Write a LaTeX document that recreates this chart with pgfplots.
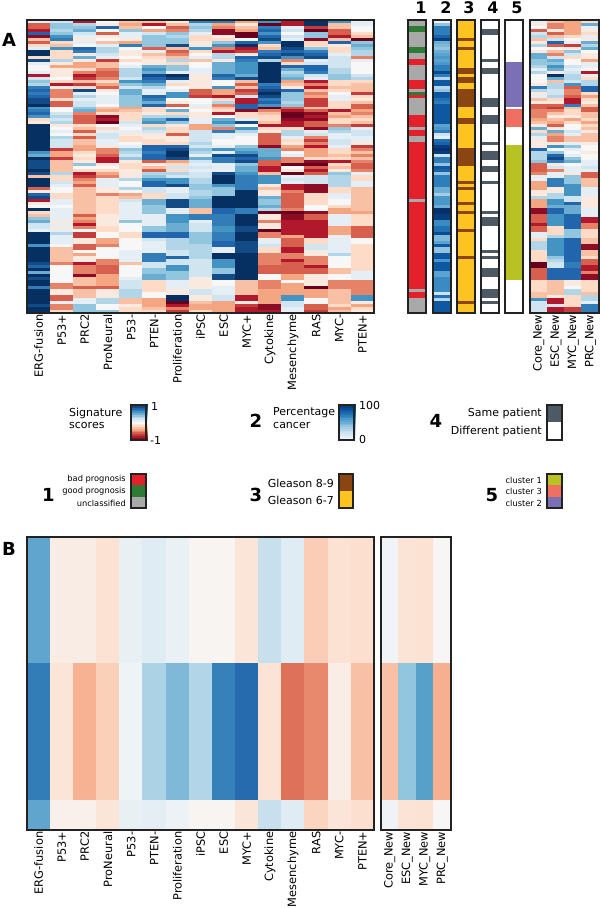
\documentclass[border=0pt]{standalone}
\usepackage{fontspec}
\setmainfont{DejaVu Sans}
\usepackage{pgfplots}
\usepackage{pgfplotstable}
\pgfplotsset{compat=1.18}

\definecolor{frame}{HTML}{222222}
\definecolor{tgray}{HTML}{A9A9A9}
\definecolor{tred}{HTML}{E4202A}
\definecolor{tgreen}{HTML}{2E7B36}
\definecolor{tyellow}{HTML}{FDC321}
\definecolor{tbrown}{HTML}{8B4513}
\definecolor{tslate}{HTML}{4D5A66}
\definecolor{tpurple}{HTML}{7B6FB5}
\definecolor{tsalmon}{HTML}{EF7060}
\definecolor{tolive}{HTML}{B8C224}

\pgfplotsset{
  colormap={rdbu}{rgb255=(103,0,31) rgb255=(178,24,43) rgb255=(214,96,77) rgb255=(244,165,130) rgb255=(253,219,199) rgb255=(247,247,247) rgb255=(209,229,240) rgb255=(146,197,222) rgb255=(67,147,195) rgb255=(33,102,172) rgb255=(5,48,97)},
  colormap={blues}{rgb255=(247,251,255) rgb255=(222,235,247) rgb255=(198,219,239) rgb255=(158,202,225) rgb255=(107,174,214) rgb255=(66,146,198) rgb255=(33,113,181) rgb255=(8,81,156) rgb255=(8,48,107)},
  colormap={prog}{color=(tgray) color=(tred) color=(tgreen)},
  colormap={gleason}{color=(tyellow) color=(tbrown)},
  colormap={patient}{color=(white) color=(tslate)},
  colormap={cluster}{color=(white) color=(tpurple) color=(tsalmon) color=(tolive)},
}

% cells of the heatmaps, slightly oversized so no seams show
\pgfdeclareplotmark{cellA}{\pgfpathrectangle{\pgfpoint{-11.8pt}{-1.7pt}}{\pgfpoint{23.6pt}{3.4pt}}\pgfusepathqfill}
\pgfdeclareplotmark{cellR}{\pgfpathrectangle{\pgfpoint{-8.9pt}{-1.7pt}}{\pgfpoint{17.8pt}{3.4pt}}\pgfusepathqfill}
\pgfdeclareplotmark{cellT}{\pgfpathrectangle{\pgfpoint{-10pt}{-1.7pt}}{\pgfpoint{20pt}{3.4pt}}\pgfusepathqfill}
\pgfdeclareplotmark{cellL}{\pgfpathrectangle{\pgfpoint{-9pt}{-1.1pt}}{\pgfpoint{18pt}{2.2pt}}\pgfusepathqfill}
\pgfdeclareplotmark{rowA}{\pgfpathrectangle{\pgfpoint{-11.8pt}{-64pt}}{\pgfpoint{23.6pt}{128pt}}\pgfusepathqfill}
\pgfdeclareplotmark{rowB}{\pgfpathrectangle{\pgfpoint{-11.8pt}{-68.5pt}}{\pgfpoint{23.6pt}{137pt}}\pgfusepathqfill}
\pgfdeclareplotmark{rowC}{\pgfpathrectangle{\pgfpoint{-11.8pt}{-15.5pt}}{\pgfpoint{23.6pt}{31pt}}\pgfusepathqfill}
\pgfdeclareplotmark{rowAr}{\pgfpathrectangle{\pgfpoint{-8.9pt}{-64pt}}{\pgfpoint{17.8pt}{128pt}}\pgfusepathqfill}
\pgfdeclareplotmark{rowBr}{\pgfpathrectangle{\pgfpoint{-8.9pt}{-68.5pt}}{\pgfpoint{17.8pt}{137pt}}\pgfusepathqfill}
\pgfdeclareplotmark{rowCr}{\pgfpathrectangle{\pgfpoint{-8.9pt}{-15.5pt}}{\pgfpoint{17.8pt}{31pt}}\pgfusepathqfill}

% panel A, main heatmap (scores x10), one line per sample
\pgfplotstableread[header=false]{
1 2 -8 0 -3 -3 -1 7 7 -4 6 -8 10 6 1
-6 4 3 -1 -4 -8 -3 3 -4 -1 -10 -8 10 -3 1
-6 4 4 8 -3 0 -6 4 -5 -3 7 1 -7 -3 0
-8 3 5 0 4 -4 -5 3 -9 -4 8 2 -10 -6 0
8 4 2 -6 1 2 4 1 -9 -10 6 0 4 -6 -2
-9 6 1 -1 1 4 3 -2 -1 -10 8 2 4 -8 -3
-3 7 -1 0 -1 4 4 -2 -2 0 9 1 -9 -3 -10
-6 -2 1 -3 -4 4 4 -1 4 8 6 10 -2 8 4
-2 -3 0 1 7 4 9 -1 6 10 -2 10 -2 -1 5
1 6 8 3 0 -6 -3 6 -5 -8 -3 9 4 -2 4
10 -2 7 3 -1 1 -6 -2 -8 -7 7 8 7 -2 3
10 -2 -1 2 -1 -3 -5 0 3 -1 8 9 8 1 3
-2 -2 5 1 0 -2 -3 1 3 8 9 6 9 2 -5
9 3 -1 -7 -2 -1 3 -3 -1 7 3 -5 1 2 1
1 -1 -4 -3 0 -1 -2 0 5 6 10 -2 2 2 0
0 -4 -4 -3 1 5 4 0 5 6 10 8 8 2 0
0 -1 -2 -5 3 6 4 1 5 6 10 5 8 3 0
1 -1 -5 -6 3 5 1 1 5 6 10 3 7 3 0
-8 -1 -8 -6 3 9 10 -1 8 5 10 4 2 4 2
2 0 -7 -5 2 8 9 -1 7 9 10 5 1 4 3
4 -2 -3 -2 6 7 1 -1 0 -3 10 -4 -8 -2 -2
3 -8 -7 -4 4 5 -2 -1 0 -6 7 -3 -5 -2 -3
7 -1 -2 -6 2 3 0 -1 6 -3 8 -1 -8 -3 -3
8 -5 9 -1 5 1 1 -6 -4 -7 9 8 -3 -2 -3
7 -5 1 0 5 1 6 -6 -4 -6 10 4 -5 0 -7
8 -5 3 1 4 8 6 -7 -8 2 9 4 -4 1 -2
9 -2 1 1 4 7 0 0 -2 -8 7 4 -7 1 -1
9 -6 2 1 4 5 -1 0 3 -8 8 3 -7 -2 -3
10 -6 2 0 4 8 -6 1 -5 8 6 4 -7 -2 -6
6 0 4 -3 -4 -2 0 -1 -3 8 -10 -6 -3 -2 -6
7 0 5 -4 -3 -2 5 0 -2 -9 -5 -8 -6 -8 -4
8 2 -5 -2 -2 -1 -2 -1 -8 -2 -3 -10 -9 -3 -5
6 3 -6 -9 -2 3 3 -1 0 -2 -2 -10 -8 -4 -3
-2 2 -6 -8 -2 5 8 1 5 1 -2 -9 -9 -2 -2
-1 3 -6 -10 2 6 4 1 6 9 -3 -8 -6 -2 -3
10 -1 -2 0 1 -2 -1 -4 4 0 -8 -8 -6 -5 -7
10 0 -3 -2 0 3 -2 -4 -5 6 -2 -2 -9 4 1
10 1 -6 1 1 2 -2 2 7 3 -1 3 1 3 2
10 0 -2 2 -1 -1 -6 2 1 1 -6 3 2 1 2
10 3 -6 2 -2 -1 -1 2 1 0 -6 1 -5 1 1
10 2 -3 1 -2 -2 -1 2 0 0 -6 -2 -7 2 1
10 2 -3 1 0 -2 -2 3 0 0 -6 -1 -5 2 -1
10 2 -4 -1 1 8 8 2 1 4 -9 -4 -8 1 -7
10 -7 -4 -5 4 8 9 4 6 5 5 -5 -4 -2 -5
6 -4 -2 -5 3 7 10 3 1 6 5 0 -4 -2 -3
5 -4 -1 -6 2 8 10 1 9 9 5 1 -4 -3 -5
10 -7 -2 -8 4 8 9 5 7 8 6 -5 -2 -2 -3
9 -3 -1 -8 -1 -6 -4 2 7 9 -6 -5 -9 -8 -5
9 -3 4 -1 -2 -1 -2 1 1 4 -6 -10 -10 -2 -6
9 -3 0 0 -2 -3 2 2 1 5 -8 0 -6 -3 -6
10 -3 -2 -2 -1 -6 -2 1 1 5 -8 -1 -8 -1 -5
9 3 -8 -4 -1 3 3 2 9 6 -3 -10 -6 4 1
-3 -2 -7 -5 -1 4 2 2 10 7 6 1 2 3 -2
10 -2 -5 1 3 6 6 3 10 7 6 2 2 3 -2
10 2 -4 1 0 8 6 3 10 7 6 1 2 3 1
10 1 -6 1 0 8 9 4 6 7 -1 -8 -9 3 1
-6 0 -3 -1 3 2 1 4 4 7 -3 -8 -9 -2 -3
-1 0 -3 -1 0 2 1 3 4 10 -1 -5 -9 -2 -3
8 -2 -3 -5 -4 -2 2 3 4 10 -1 -6 -2 1 -3
9 -2 -3 -2 -3 -2 2 4 10 10 5 -6 -2 1 -3
-8 1 -3 -2 2 5 9 5 10 10 4 -6 -2 0 -3
-1 1 -3 -2 1 5 9 5 10 10 4 -6 -2 0 -3
0 0 -3 -2 1 4 9 5 10 10 5 -6 0 -2 -3
10 1 -3 -2 1 4 1 -3 8 7 3 -5 0 -4 -3
-2 1 -3 -2 1 4 1 -3 8 7 -10 -10 -9 -4 -4
-3 1 -6 -1 1 1 6 7 7 10 -1 -9 -6 1 -2
4 1 -4 -1 1 1 6 7 7 10 -1 -9 -6 1 -2
5 -1 -5 -1 4 1 6 1 7 10 -5 -8 -8 1 -2
2 1 -8 -1 0 1 5 2 7 10 -1 -8 -8 1 -2
2 -1 -5 -2 0 4 5 2 6 9 -1 -8 -8 -4 -6
1 1 0 -2 0 4 5 2 6 9 -10 -8 -8 -4 -6
10 3 -7 0 -2 8 8 4 7 10 -5 -8 -8 -4 -6
10 1 -7 0 -2 8 8 4 7 10 -5 -4 -8 1 -6
10 1 -1 -4 0 2 3 4 7 10 1 -6 -2 1 0
10 1 -1 -4 0 1 3 4 8 9 1 -6 -2 1 0
6 0 -6 -5 0 1 3 3 8 9 2 -6 2 1 -2
10 -3 -6 0 0 1 3 3 1 9 -2 -8 2 1 -2
10 -3 0 0 1 1 2 3 1 9 -2 -8 -1 1 -2
10 -3 -4 0 1 7 2 3 10 10 -5 -5 -1 3 -2
10 -3 -1 0 1 7 8 3 10 10 -5 -5 -5 0 -2
10 -3 -1 -5 1 7 2 2 6 10 -5 -8 -5 0 -2
9 -5 -8 -5 -3 2 2 2 6 10 -5 -6 -5 0 -2
8 0 -5 -6 0 2 6 2 6 10 -6 -6 -8 0 -2
10 0 -5 -6 0 4 6 2 4 10 -6 -6 -6 -3 -2
5 0 -5 -6 0 4 4 2 4 10 -6 -6 -6 -3 1
10 0 -9 -4 0 5 4 2 9 10 0 -4 -1 0 1
9 0 -3 -4 1 5 4 -1 9 10 0 -4 -1 0 1
10 0 -3 -4 2 -2 1 -1 0 -3 -5 0 -1 -5 -5
10 -5 -3 -4 2 -2 1 -1 0 -3 -5 -4 -1 -5 -5
7 -5 -6 -6 2 -2 1 -1 1 -3 -5 -4 -10 -5 -5
10 -1 -3 -1 3 -2 -1 2 1 -3 -4 -4 -4 -3 -5
10 -1 -3 -1 3 0 -1 2 1 -3 -4 -4 -4 -3 -5
10 -6 -3 -1 3 0 10 -1 2 -8 -4 6 -4 -3 6
10 -6 1 3 -3 -4 10 -1 2 -8 -4 6 0 -3 6
10 1 1 3 -3 -4 -10 -3 -4 -1 -4 2 0 -3 -1
9 -5 4 0 -1 -4 -8 -4 -4 -7 -9 2 -6 -2 -4
10 -5 4 0 -2 -3 -5 -4 -4 -8 -9 1 -6 -4 -2
10 -2 4 4 -2 -2 -7 -2 -4 -8 -8 1 -7 -3 -1
}\heatA

% panel A, the four New signatures
\pgfplotstableread[header=false]{
1 -3 -4 -2
-1 -5 -4 5
0 -5 -4 1
-6 -1 -4 -1
2 -6 -4 -2
3 -3 -2 1
-3 2 0 -1
-1 8 1 5
3 -6 -7 3
0 0 -1 5
-1 -3 4 0
5 -5 2 -1
5 2 -2 -1
4 5 0 -4
4 4 0 1
3 6 2 1
1 5 1 0
3 -1 2 -8
0 10 3 1
0 5 3 -2
0 -3 2 3
-1 3 6 3
7 3 -6 8
3 2 -5 8
-1 2 -5 -2
1 3 -6 -4
-3 -2 -8 -2
-1 -1 -8 -1
-6 -6 7 -3
-6 -7 -3 -6
-5 -5 -2 -6
-5 -3 -2 -3
-5 -1 -1 -3
-4 -3 -4 -2
-3 -4 -2 -4
-1 -6 0 -2
5 -1 0 -3
-2 5 2 -1
3 -4 1 -3
1 -5 -3 -3
-1 -5 -3 -3
-1 -1 1 -1
-1 6 4 0
8 0 1 0
3 4 0 -1
3 8 1 0
3 9 4 0
4 7 5 1
-6 -1 0 1
-6 2 1 2
-6 -5 1 1
-5 1 -1 -6
1 1 4 -6
1 7 4 -3
-4 7 4 -3
-4 7 6 -3
-4 -1 6 1
-1 -1 6 1
-1 3 6 1
3 3 2 -1
-4 6 2 -1
-4 6 8 -1
-4 5 5 -1
-9 8 5 1
-9 8 5 1
-6 6 8 1
-6 6 8 -8
-6 6 8 -8
-8 6 8 -5
-6 -2 8 -5
-6 -2 4 -2
1 -2 4 -2
1 3 4 -2
-2 6 8 -3
3 6 8 -3
3 6 8 -9
3 6 8 -9
-2 6 8 -3
-2 6 8 -3
-2 4 8 -2
-2 3 8 -6
-10 2 7 -6
-10 2 7 -8
-6 8 8 -8
-6 8 8 -5
-6 8 8 -9
-6 8 8 -9
-2 -3 -1 -2
-2 -3 -1 -2
-2 -3 0 -2
-2 -3 3 -2
-3 -3 3 -3
-3 -1 -2 3
6 -8 -2 3
2 -8 -2 1
2 2 -2 7
2 -8 -7 7
2 -8 -7 7
}\heatR

% the five annotation tracks: prognosis, percentage cancer, Gleason, patient, cluster
\pgfplotstableread[header=false]{
0 5 0 0 0
0 40 0 0 0
2 70 0 0 0
2 70 0 1 0
0 70 0 1 0
0 80 0 0 0
0 95 1 0 0
0 50 0 0 0
0 45 0 0 0
2 40 1 0 0
2 50 0 0 0
0 55 0 0 0
0 60 0 0 0
1 55 0 1 0
1 60 0 0 1
0 70 0 0 1
0 70 1 1 1
0 90 1 1 1
0 70 0 0 1
0 30 1 0 1
1 85 1 0 1
1 85 0 0 1
1 30 0 0 1
0 40 1 0 1
2 85 1 0 1
1 85 1 0 1
0 75 1 1 1
0 70 1 1 1
0 85 1 1 1
0 85 0 0 0
0 85 0 0 2
0 85 0 0 2
1 85 0 1 2
1 85 1 1 2
1 85 1 1 2
1 55 0 0 2
0 60 0 0 0
1 70 0 0 0
1 20 0 0 0
0 10 0 0 0
0 75 0 0 0
1 80 0 1 0
1 95 0 0 3
1 100 1 0 3
1 95 1 1 3
1 20 1 1 3
1 70 1 1 3
1 70 1 0 3
1 40 1 0 3
1 85 0 1 3
1 80 0 1 3
1 40 0 0 3
1 70 0 0 3
1 70 0 0 3
1 70 1 1 3
1 70 0 0 3
1 50 1 0 3
1 50 0 0 3
1 35 0 0 3
1 60 0 0 3
0 60 0 0 3
1 60 1 0 3
1 50 0 0 3
1 100 0 0 3
1 100 1 1 3
1 95 0 0 3
1 95 0 1 3
1 65 0 1 3
1 65 0 1 3
1 75 0 0 3
1 75 1 0 3
1 90 0 0 3
1 45 0 0 3
1 45 0 0 3
1 55 0 0 3
1 85 0 0 3
1 40 0 0 3
1 40 0 1 3
1 85 0 0 3
1 85 1 1 3
1 60 0 0 3
1 85 0 0 3
1 85 0 0 3
1 85 0 1 3
1 55 0 1 3
1 55 0 1 3
1 65 0 0 3
1 65 0 0 0
1 65 0 0 0
1 65 0 0 0
0 65 0 1 0
1 20 0 1 0
1 75 0 1 0
0 30 0 0 0
0 85 1 1 0
0 85 0 0 0
0 85 0 0 0
0 85 0 0 0
}\tracks

% panel B, group means: one line per signature, three groups
\pgfplotstableread{
g1 g2 g3
5.3 7 5.3
-0.8 -1.3 -0.5
-0.8 -3.5 -0.5
-1.5 -2.4 -1.3
0.8 0.5 0.8
1.2 3.2 1
0.7 4.5 0.6
-0.2 3 -0.2
-0.2 6.8 -0.2
-1.3 7.8 -1.3
2.3 -1.4 2.3
1.2 -5.5 1.2
-2.5 -4.8 -2.2
-1.5 -0.7 -1.3
-1.7 -3 -1.7
}\heatB

\pgfplotstableread{
g1 g2 g3
0.3 -3 0.4
-1.4 4 -1.4
-1.5 5.5 -1.5
-0.1 -3.6 -0.1
}\heatBR

% colour bars of the legend
\pgfplotstableread{
v
-10
-9
-8
-7
-6
-5
-4
-3
-2
-1
0
1
2
3
4
5
6
7
8
9
10
}\barScore
\pgfplotstableread{
v
0
5
10
15
20
25
30
35
40
45
50
55
60
65
70
75
80
85
90
95
100
}\barPct

\newcommand{\lab}{\fontsize{11}{13}\selectfont}
\newcommand{\tlab}{\fontsize{11.4}{14}\selectfont}
\newcommand{\sm}{\fontsize{8.3}{10}\selectfont}
\newcommand{\bigb}{\fontsize{18}{20}\selectfont\bfseries}
\newcommand{\topb}{\fontsize{16}{18}\selectfont\bfseries}

\pgfplotsset{
  heat/.style={
    scale only axis, y dir=reverse, axis on top,
    axis line style={draw=frame,line width=1.3pt},
    ymajorticks=false, major tick length=0pt, tick style={draw=none},
    xticklabel style={rotate=90,anchor=east,font=\tlab,inner xsep=1.5pt},
    colormap name=rdbu, point meta min=-10, point meta max=10,
  },
  cells/.style={scatter, only marks, scatter src=explicit, mark=#1},
}

\newcommand{\track}[4]{% left edge, table column, colormap, top of scale
  \begin{axis}[heat, at={(#1pt,595pt)}, anchor=south west, width=18pt, height=293pt,
    xmin=-0.5, xmax=0.5, ymin=-0.5, ymax=97.5, xmajorticks=false,
    colormap name=#3, point meta min=0, point meta max=#4]
    \addplot[cells=cellT] table[x expr=0, y expr=\coordindex, meta index=#2] {\tracks};
  \end{axis}}

\newcommand{\gradbar}[5]{% left edge, table, colormap, min, max
  \begin{axis}[heat, y dir=normal, at={(#1pt,468pt)}, anchor=south west, width=15pt, height=35pt,
    xmin=-0.5, xmax=0.5, ymin=#4, ymax=#5, xmajorticks=false,
    colormap name=#3, point meta min=#4, point meta max=#5]
    \addplot[cells=cellL] table[x expr=0, y=v, meta=v] {#2};
  \end{axis}}

\begin{document}
\begin{tikzpicture}[x=1pt,y=1pt]
\useasboundingbox (0,0) rectangle (600,908);

% A: main heatmap
\begin{axis}[heat, at={(27pt,595pt)}, anchor=south west, width=347pt, height=293pt,
  xmin=-0.5, xmax=14.5, ymin=-0.5, ymax=97.5, xtick={0,...,14},
  xticklabels={ERG-fusion,P53+,PRC2,ProNeural,P53-,PTEN-,Proliferation,iPSC,ESC,MYC+,Cytokine,Mesenchyme,RAS,MYC-,PTEN+}]
\pgfplotsinvokeforeach{0,...,14}{
  \addplot[cells=cellA] table[x expr=#1, y expr=\coordindex, meta index=#1] {\heatA};
}
\end{axis}

% A: tracks 1-5
\track{408}{0}{prog}{2}
\track{433}{1}{blues}{100}
\track{457}{2}{gleason}{1}
\track{481}{3}{patient}{1}
\track{505}{4}{cluster}{3}

% A: New signatures
\begin{axis}[heat, at={(530pt,595pt)}, anchor=south west, width=69pt, height=293pt,
  xmin=-0.5, xmax=3.5, ymin=-0.5, ymax=97.5, xtick={0,...,3},
  xticklabels={Core\_New,ESC\_New,MYC\_New,PRC\_New}]
\pgfplotsinvokeforeach{0,...,3}{
  \addplot[cells=cellR] table[x expr=#1, y expr=\coordindex, meta index=#1] {\heatR};
}
\end{axis}

% B: group means, row heights 126, 137, 30
\begin{axis}[heat, at={(27pt,78pt)}, anchor=south west, width=347pt, height=293pt,
  xmin=-0.5, xmax=14.5, ymin=0, ymax=293, xtick={0,...,14},
  xticklabels={ERG-fusion,P53+,PRC2,ProNeural,P53-,PTEN-,Proliferation,iPSC,ESC,MYC+,Cytokine,Mesenchyme,RAS,MYC-,PTEN+}]
\addplot[cells=rowA] table[x expr=\coordindex, y expr=63, meta=g1] {\heatB};
\addplot[cells=rowB] table[x expr=\coordindex, y expr=194.5, meta=g2] {\heatB};
\addplot[cells=rowC] table[x expr=\coordindex, y expr=278, meta=g3] {\heatB};
\end{axis}

\begin{axis}[heat, at={(381pt,78pt)}, anchor=south west, width=70pt, height=293pt,
  xmin=-0.5, xmax=3.5, ymin=0, ymax=293, xtick={0,...,3},
  xticklabels={Core\_New,ESC\_New,MYC\_New,PRC\_New}]
\addplot[cells=rowAr] table[x expr=\coordindex, y expr=63, meta=g1] {\heatBR};
\addplot[cells=rowBr] table[x expr=\coordindex, y expr=194.5, meta=g2] {\heatBR};
\addplot[cells=rowCr] table[x expr=\coordindex, y expr=278, meta=g3] {\heatBR};
\end{axis}

% legend colour bars
\gradbar{131}{\barScore}{rdbu}{-10}{10}
\gradbar{339}{\barPct}{blues}{0}{100}

% text and swatches, in image pixels from the top left
\begin{scope}[shift={(0,908)},y=-1pt,every node/.style={inner sep=0pt}]
% frames go on last, the marks would cover the axis lines
\foreach \a/\b/\c/\d in {27/20/374/313,408/20/426/313,433/20/451/313,457/20/475/313,481/20/499/313,505/20/523/313,530/20/599/313,27/537/374/830,381/537/451/830,131/405/146/440,339/405/354/440}
  \draw[frame,line width=1.3pt] (\a,\b) rectangle (\c,\d);

\node[font=\bigb] at (9,40) {A};
\node[font=\bigb] at (9,549) {B};
\node[font=\topb] at (421,8) {1};
\node[font=\topb] at (446,8) {2};
\node[font=\topb] at (469,8) {3};
\node[font=\topb] at (493,8) {4};
\node[font=\topb] at (517,8) {5};

\node[font=\lab,anchor=west] at (69,413) {Signature};
\node[font=\lab,anchor=west] at (69,426) {scores};
\node[font=\lab,anchor=west] at (151,406) {1};
\node[font=\lab,anchor=west] at (150,440) {-1};

\node[font=\bigb] at (256,421) {2};
\node[font=\lab,anchor=west] at (273,413) {Percentage};
\node[font=\lab,anchor=west] at (273,426) {cancer};
\node[font=\lab,anchor=west] at (359,406) {100};
\node[font=\lab,anchor=west] at (359,440) {0};

\node[font=\bigb] at (436,421) {4};
\node[font=\lab,anchor=east] at (542,413) {Same patient};
\node[font=\lab,anchor=east] at (542,431) {Different patient};
\fill[tslate] (547,405) rectangle (562,422.5);
\fill[white] (547,422.5) rectangle (562,440);
\draw[frame,line width=1.2pt] (547,405) rectangle (562,440);

\node[font=\bigb] at (48.5,495) {1};
\node[font=\sm,anchor=east] at (126,479) {bad prognosis};
\node[font=\sm,anchor=east] at (126,491) {good prognosis};
\node[font=\sm,anchor=east] at (126,503) {unclassified};
\fill[tred] (131,474) rectangle (146,485.5);
\fill[tgreen] (131,485.5) rectangle (146,497);
\fill[tgray] (131,497) rectangle (146,508);
\draw[frame,line width=1.2pt] (131,474) rectangle (146,508);

\node[font=\bigb] at (256,495) {3};
\node[font=\lab,anchor=east] at (334,483) {Gleason 8-9};
\node[font=\lab,anchor=east] at (334,500) {Gleason 6-7};
\fill[tbrown] (339,474) rectangle (353,491);
\fill[tyellow] (339,491) rectangle (353,508);
\draw[frame,line width=1.2pt] (339,474) rectangle (353,508);

\node[font=\bigb] at (492,495) {5};
\node[font=\sm,anchor=east] at (542,480) {cluster 1};
\node[font=\sm,anchor=east] at (542,491) {cluster 3};
\node[font=\sm,anchor=east] at (542,503) {cluster 2};
\fill[tolive] (547,474) rectangle (562,485.5);
\fill[tsalmon] (547,485.5) rectangle (562,497);
\fill[tpurple] (547,497) rectangle (562,508);
\draw[frame,line width=1.2pt] (547,474) rectangle (562,508);
\end{scope}
\end{tikzpicture}
\end{document}
